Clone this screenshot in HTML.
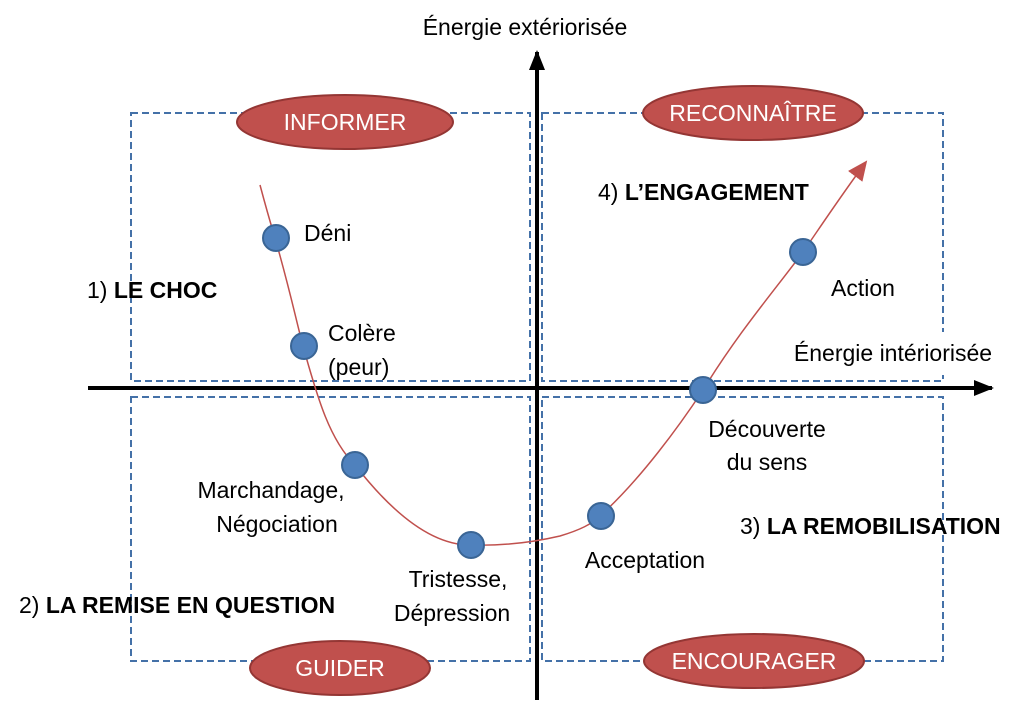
<!DOCTYPE html>
<html><head><meta charset="utf-8"><style>
body{margin:0;background:#fff;width:1024px;height:700px;overflow:hidden}
svg text{font-family:"Liberation Sans",sans-serif}
</style></head><body>
<svg width="1024" height="700" viewBox="0 0 1024 700">
<defs>
<marker id="ab" markerWidth="20" markerHeight="16" refX="18" refY="8" orient="auto" markerUnits="userSpaceOnUse"><path d="M0,0 L20,8 L0,16 z" fill="#000"/></marker>
<marker id="ar" markerWidth="22" markerHeight="22" refX="18" refY="11" orient="auto" markerUnits="userSpaceOnUse"><path d="M0,2 L20,11 L0,20 z" fill="#c0504d"/></marker>
</defs>
<g fill="none" stroke="#4471a8" stroke-width="2" stroke-dasharray="7,4">
<rect x="131" y="113" width="399" height="268"/>
<rect x="542" y="113" width="401" height="268"/>
<rect x="131" y="397" width="399" height="264"/>
<rect x="542" y="397" width="401" height="264"/>
</g>
<rect x="378" y="5" width="290" height="40" fill="#fff"/>
<text x="525" y="35" font-size="23" text-anchor="middle">Énergie extériorisée</text>
<rect x="763" y="332" width="257" height="43" fill="#fff"/>
<text x="893" y="361" font-size="23" text-anchor="middle">Énergie intériorisée</text>
<line x1="537" y1="700" x2="537" y2="52" stroke="#000" stroke-width="4" marker-end="url(#ab)"/>
<line x1="88" y1="388" x2="992" y2="388" stroke="#000" stroke-width="4" marker-end="url(#ab)"/>
<path d="M260,185 C268,215 272,228 275,238 C290,290 296,320 303,346 C318,400 330,440 355,465 C390,510 430,545 470,545 C500,546 530,543 560,536 C580,530 592,524 600,516 C640,480 680,425 703,390 C740,330 775,290 803,252 C825,220 845,190 866,162" fill="none" stroke="#c0504d" stroke-width="1.5" marker-end="url(#ar)"/>
<g fill="#4f81bd" stroke="#3a6595" stroke-width="2">
<circle cx="276" cy="238" r="13"/><circle cx="304" cy="346" r="13"/>
<circle cx="355" cy="465" r="13"/><circle cx="471" cy="545" r="13"/>
<circle cx="601" cy="516" r="13"/><circle cx="703" cy="390" r="13"/>
<circle cx="803" cy="252" r="13"/>
</g>
<g fill="#c0504d" stroke="#943634" stroke-width="2">
<ellipse cx="345" cy="122" rx="108" ry="27"/>
<ellipse cx="753" cy="113" rx="110" ry="27"/>
<ellipse cx="340" cy="668" rx="90" ry="27"/>
<ellipse cx="754" cy="661" rx="110" ry="27"/>
</g>
<g fill="#fff" font-size="23" text-anchor="middle">
<text x="345" y="130">INFORMER</text>
<text x="753" y="121">RECONNAÎTRE</text>
<text x="340" y="676">GUIDER</text>
<text x="754" y="669">ENCOURAGER</text>
</g>
<g font-size="23" fill="#000">
<text x="304" y="241">Déni</text>
<text x="328" y="341">Colère</text>
<text x="328" y="375">(peur)</text>
<text x="271" y="498" text-anchor="middle">Marchandage,</text>
<text x="277" y="532" text-anchor="middle">Négociation</text>
<text x="458" y="587" text-anchor="middle">Tristesse,</text>
<text x="452" y="621" text-anchor="middle">Dépression</text>
<text x="645" y="568" text-anchor="middle">Acceptation</text>
<text x="767" y="437" text-anchor="middle">Découverte</text>
<text x="767" y="470" text-anchor="middle">du sens</text>
<text x="863" y="296" text-anchor="middle">Action</text>
<text x="87" y="298">1) <tspan font-weight="bold">LE CHOC</tspan></text>
<text x="598" y="200">4) <tspan font-weight="bold">L’ENGAGEMENT</tspan></text>
<text x="19" y="613">2) <tspan font-weight="bold">LA REMISE EN QUESTION</tspan></text>
<text x="740" y="534">3) <tspan font-weight="bold">LA REMOBILISATION</tspan></text>
</g>
</svg>
</body></html>
